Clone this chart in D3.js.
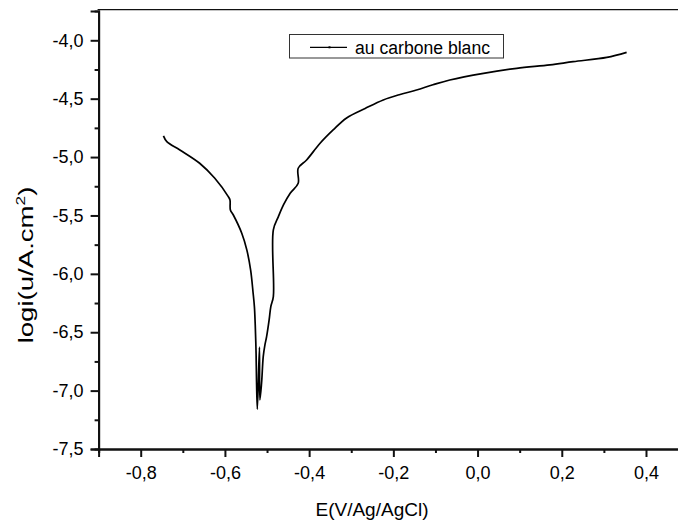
<!DOCTYPE html>
<html>
<head>
<meta charset="utf-8">
<script src="https://cdn.jsdelivr.net/npm/d3@7"></script>
<style>
  body { margin: 0; background: #fff; }
  svg { display: block; font-family: "Liberation Sans", Arial, sans-serif; }
</style>
</head>
<body>
<svg id="chart" width="678" height="525"></svg>
<script>
// potential E (V vs Ag/AgCl) and log i
const potential = [
  -0.746, -0.738, -0.707, -0.660, -0.624, -0.592, -0.588, -0.587, -0.580, -0.560,
  -0.548, -0.539, -0.533, -0.530, -0.528, -0.526, -0.525, -0.523,
  -0.518, -0.517,
  -0.513, -0.509, -0.505, -0.501, -0.495, -0.491, -0.485, -0.485, -0.473, -0.461,
  -0.445, -0.426, -0.426, -0.406, -0.374, -0.343, -0.311, -0.267, -0.224, -0.184,
  -0.145, -0.106, -0.066, 0.014, 0.093, 0.172, 0.227, 0.307, 0.354
];
const logI = [
  -4.819, -4.868, -4.939, -5.053, -5.182, -5.339, -5.367, -5.453, -5.496, -5.652,
  -5.795, -5.967, -6.166, -6.281, -6.437, -6.680, -6.908, -7.159,
  -6.628, -7.080,
  -6.937, -6.709, -6.609, -6.538, -6.395, -6.281, -6.195, -5.624, -5.510, -5.410,
  -5.310, -5.224, -5.096, -5.025, -4.882, -4.768, -4.665, -4.584, -4.511, -4.464,
  -4.426, -4.381, -4.340, -4.283, -4.240, -4.211, -4.183, -4.146, -4.103
];
const xTicks = [-0.8, -0.6, -0.4, -0.2, 0.0, 0.2, 0.4];
const xMinor = [-0.9, -0.7, -0.5, -0.3, -0.1, 0.1, 0.3, 0.5];
const yTicks = [-7.5, -7.0, -6.5, -6.0, -5.5, -5.0, -4.5, -4.0];
const yMinor = [-7.25, -6.75, -6.25, -5.75, -5.25, -4.75, -4.25];
const seriesName = "au carbone blanc";

const points = potential.map((e, i) => ({ e: e, v: logI[i] }));

const svg = d3.select("#chart");
const x = d3.scaleLinear().domain([-0.9, 0.5]).range([98.6, 688.1]);
const y = d3.scaleLinear().domain([-7.5, -3.75]).range([449, 11.1]);

// decimal comma, plain hyphen for the minus sign
const comma = d => d3.format(".1f")(d).replace("\u2212", "-").replace(".", ",");

// top frame line
svg.append("line")
  .attr("x1", x(-0.9) - 1).attr("x2", 678)
  .attr("y1", 9.6).attr("y2", 9.6)
  .attr("stroke", "#111").attr("stroke-width", 1.4);

function styleAxis(g) {
  g.select(".domain").attr("stroke", "#111").attr("stroke-width", 2);
  g.selectAll(".tick line").attr("stroke", "#111").attr("stroke-width", 2);
  g.selectAll(".tick text").attr("fill", "#000").style("font-size", "18px")
    .style("font-family", "Liberation Sans, Arial, sans-serif");
}

// x axis
svg.append("g").attr("transform", "translate(0," + y(-7.5) + ")")
  .call(d3.axisBottom(x).tickValues(xMinor).tickSize(4).tickFormat(""))
  .call(styleAxis);
svg.append("g").attr("transform", "translate(0," + y(-7.5) + ")")
  .call(d3.axisBottom(x).tickValues(xTicks).tickSize(8).tickPadding(9).tickFormat(comma))
  .call(styleAxis);

// y axis
svg.append("g").attr("transform", "translate(" + x(-0.9) + ",0)")
  .call(d3.axisLeft(y).tickValues(yMinor).tickSize(4).tickFormat(""))
  .call(styleAxis);
svg.append("g").attr("transform", "translate(" + x(-0.9) + ",0)")
  .call(d3.axisLeft(y).tickValues(yTicks).tickSize(8).tickPadding(7).tickFormat(comma))
  .call(styleAxis);

// curve
const line = d3.line().curve(d3.curveCatmullRom.alpha(0.5)).x(d => x(d.e)).y(d => y(d.v));
svg.append("path").datum(points)
  .attr("d", line)
  .attr("fill", "none")
  .attr("stroke", "#000")
  .attr("stroke-width", 1.7)
  .attr("stroke-linejoin", "round");

// axis titles
svg.append("text")
  .attr("x", 372).attr("y", 516)
  .attr("text-anchor", "middle")
  .style("font-size", "19px")
  .text("E(V/Ag/AgCl)");

// y title is drawn long and a bit flat, as in the original
const yt = svg.append("text")
  .attr("transform", "translate(33,265) rotate(-90) scale(1.15,0.85)")
  .attr("text-anchor", "middle")
  .style("font-size", "24px");
yt.append("tspan").text("logi(u/A.cm");
yt.append("tspan").attr("dy", -9).style("font-size", "15px").text("2");
yt.append("tspan").attr("dy", 9).text(")");

// legend
const lg = svg.append("g");
lg.append("rect")
  .attr("x", 289.5).attr("y", 34.5).attr("width", 214).attr("height", 23.5)
  .attr("fill", "#fff").attr("stroke", "#333").attr("stroke-width", 1);
lg.append("line")
  .attr("x1", 310).attr("x2", 347).attr("y1", 47.3).attr("y2", 47.3)
  .attr("stroke", "#000").attr("stroke-width", 1.2);
lg.append("rect")
  .attr("x", 328.5).attr("y", 46.3).attr("width", 2).attr("height", 2).attr("fill", "#000");
lg.append("text")
  .attr("x", 355).attr("y", 53.5)
  .style("font-size", "17.6px")
  .text(seriesName);
</script>
</body>
</html>
